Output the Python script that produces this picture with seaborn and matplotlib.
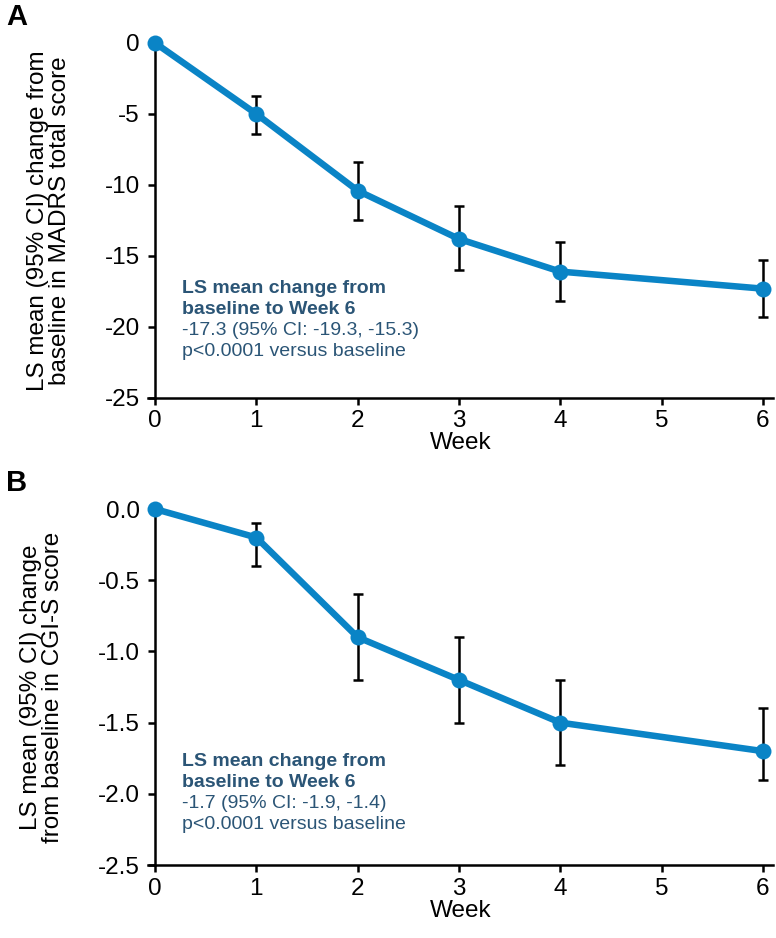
import numpy as np
import pandas as pd
import matplotlib
matplotlib.use("Agg")
import matplotlib.pyplot as plt
import seaborn as sns

# Datos
weeks = [0, 1, 2, 3, 4, 6]

madrs_mean = [0, -5.0, -10.4, -13.8, -16.1, -17.3]
madrs_low = [0, -6.4, -12.5, -16.0, -18.2, -19.3]
madrs_high = [0, -3.7, -8.4, -11.5, -14.0, -15.3]

cgis_mean = [0, -0.2, -0.9, -1.2, -1.5, -1.7]
cgis_low = [0, -0.4, -1.2, -1.5, -1.8, -1.9]
cgis_high = [0, -0.1, -0.6, -0.9, -1.2, -1.4]

madrs_ticks = [0, -5, -10, -15, -20, -25]
madrs_ticklabels = ["0", "-5", "-10", "-15", "-20", "-25"]
cgis_ticks = [0, -0.5, -1.0, -1.5, -2.0, -2.5]
cgis_ticklabels = ["0.0", "-0.5", "-1.0", "-1.5", "-2.0", "-2.5"]

sns.set_style("ticks")
plt.rcParams["font.family"] = ["Liberation Sans", "DejaVu Sans"]
plt.rcParams["text.color"] = "black"
plt.rcParams["axes.labelcolor"] = "black"
plt.rcParams["axes.edgecolor"] = "black"

blue = "#0a84c6"
text_col = "#2b5576"

fig = plt.figure(figsize=(7.76, 9.38), dpi=100)
ax_a = fig.add_axes([0.1907, 0.5757, 0.8054, 0.3785])
ax_b = fig.add_axes([0.1907, 0.0778, 0.8054, 0.3795])


def draw_panel(ax, mean, low, high, yticks, yticklabels, ylabel, note, note_y):
    df = pd.DataFrame({"Week": weeks, "mean": mean, "low": low, "high": high})
    err = df[df["Week"] > 0]
    ax.errorbar(err["Week"], err["mean"],
                yerr=[err["mean"] - err["low"], err["high"] - err["mean"]],
                fmt="none", ecolor="black", elinewidth=1.8, capsize=3.5,
                capthick=1.8, zorder=2, clip_on=False)
    sns.lineplot(data=df, x="Week", y="mean", ax=ax, color=blue, linewidth=4.7,
                 marker="o", markersize=11.5, markeredgewidth=0, zorder=3,
                 clip_on=False)
    ax.set_xlim(-0.07, 6.1)
    ax.set_ylim(yticks[-1], yticks[0])
    ax.set_xticks(range(0, 7))
    ax.set_yticks(yticks)
    ax.set_yticklabels(yticklabels)
    ax.spines["left"].set_position(("data", 0))
    ax.spines["top"].set_visible(False)
    ax.spines["right"].set_visible(False)
    for s in ["left", "bottom"]:
        ax.spines[s].set_linewidth(1.8)
        ax.spines[s].set_color("black")
    ax.tick_params(axis="both", labelsize=17.5, width=1.8, length=5, colors="black")
    ax.tick_params(axis="y", pad=6)
    ax.tick_params(axis="x", pad=4)
    ax.set_xlabel("Week", fontsize=17.5, labelpad=0)
    ax.set_ylabel(ylabel, fontsize=17.5, labelpad=24, linespacing=1.0)
    # cuatro lineas de la nota, cada una en su propia linea de texto
    for i, line in enumerate(note):
        ax.annotate(line, xy=(0.27, note_y), xytext=(0, -15.2 * i),
                    textcoords="offset points", fontsize=14, color=text_col,
                    fontweight="bold" if i < 2 else "normal",
                    va="top", ha="left")


draw_panel(ax_a, madrs_mean, madrs_low, madrs_high, madrs_ticks, madrs_ticklabels,
           "LS mean (95% CI) change from\nbaseline in MADRS total score",
           ["LS mean change from", "baseline to Week 6",
            "-17.3 (95% CI: -19.3, -15.3)", "p<0.0001 versus baseline"],
           -16.7)
draw_panel(ax_b, cgis_mean, cgis_low, cgis_high, cgis_ticks, cgis_ticklabels,
           "LS mean (95% CI) change\nfrom baseline in CGI-S score",
           ["LS mean change from", "baseline to Week 6",
            "-1.7 (95% CI: -1.9, -1.4)", "p<0.0001 versus baseline"],
           -1.71)

fig.text(0.008, 0.997, "A", fontsize=21, fontweight="bold", va="top", ha="left")
fig.text(0.008, 0.500, "B", fontsize=21, fontweight="bold", va="top", ha="left")

fig.savefig("out.png", dpi=100)
